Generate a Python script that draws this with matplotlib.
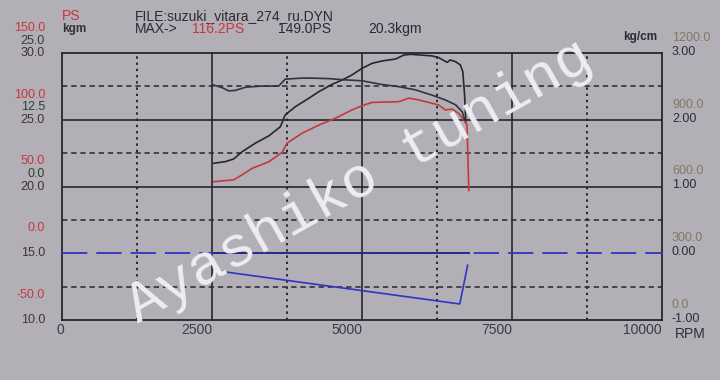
import matplotlib
matplotlib.use("Agg")
import matplotlib.pyplot as plt

# ---------------- data ----------------
rpm_ps1 = [2530, 2860, 2950, 3170, 3450, 3670, 3750, 4000, 4280, 4550, 4720, 4830,
           5000, 5170, 5610, 5780, 5950, 6170, 6280, 6390, 6500, 6610, 6700, 6750, 6780]
ps1 = [53.6, 55.0, 57.3, 63.6, 68.6, 75.6, 82.4, 89.9, 96.0, 101.0, 104.8, 107.3,
       110.5, 113.0, 113.5, 116.2, 114.8, 112.3, 111.0, 107.3, 108.0, 104.8, 99.8, 96.0, 47.0]

rpm_ps2 = [2530, 2720, 2860, 3000, 3220, 3450, 3640, 3720, 3890, 4110, 4280, 4500, 4670,
           4830, 5000, 5170, 5330, 5560, 5700, 5810, 5970, 6170, 6280, 6420, 6470, 6560,
           6640, 6680, 6710, 6730]
ps2 = [67.4, 68.6, 70.6, 76.0, 82.4, 88.0, 94.8, 103.6, 109.8, 116.0, 121.0, 126.5, 129.8,
       133.5, 138.5, 142.3, 144.0, 145.5, 148.5, 149.0, 148.5, 147.8, 146.5, 143.0, 144.8,
       143.5, 141.0, 136.0, 118.5, 98.5]

rpm_tq = [2530, 2670, 2780, 2890, 3060, 3330, 3610, 3720, 4000, 4170, 4450, 4670, 5000,
          5330, 5610, 5890, 6170, 6390, 6560, 6670, 6710]
tq_kgm = [19.0, 18.5, 17.9, 18.0, 18.6, 18.8, 18.8, 20.1, 20.3, 20.3, 20.2, 20.0, 19.8,
          19.1, 18.7, 18.1, 17.1, 16.2, 15.3, 14.0, 12.5]

rpm_boost = [2640, 6630, 6760]
boost = [-0.27, -0.76, -0.18]
rpm_boost0 = [2530, 6780]
boost0 = [0.0, 0.0]

ps_labels = ["150.0", "100.0", "50.0", "0.0", "-50.0"]
kgm_labels = ["25.0", "12.5", "0.0", "", ""]
third_labels = ["30.0", "25.0", "20.0", "15.0", "10.0"]
right_upper = ["1200.0", "900.0", "600.0", "300.0", "0.0"]
right_lower = ["3.00", "2.00", "1.00", "0.00", "-1.00"]
x_ticks = [0, 2500, 5000, 7500, 10000]

# ---------------- style ----------------
BG = "#b2b0b6"
RED = "#c4383e"
DARK = "#26262e"
TQC = "#2e3444"
BLUE = "#3232c4"
FONT = ["Liberation Sans", "DejaVu Sans"]
FS = 10
FSL = 9

fig = plt.figure(figsize=(7.2, 3.8), dpi=100, facecolor=BG)
ax = fig.add_axes([62/720, 1-320/380, 600/720, 267/380], facecolor=BG)
ax.set_xlim(0, 10000)
ax.set_ylim(-50, 150)
for s in ax.spines.values():
    s.set_color(DARK)
    s.set_linewidth(1.3)
ax.set_xticks([])
ax.set_yticks([])

# grid
for xv in [2500, 5000, 7500]:
    ax.axvline(xv, color=DARK, lw=1.2)
for xv in [1250, 3750, 6250, 8750]:
    ax.axvline(xv, color=DARK, lw=1.4, ls=(0, (1.2, 2.0)))
for yv in [100, 50]:
    ax.axhline(yv, color=DARK, lw=1.2)
for yv in [125, 75, 25, -25]:
    ax.axhline(yv, color=DARK, lw=1.1, ls=(0, (3.5, 2.5)))

# twin scales
axk = ax.twinx()
axk.set_ylim(-25, 25)
axb = ax.twinx()
axb.set_ylim(-1, 3)
for a in (axk, axb):
    a.set_yticks([])
    for s in a.spines.values():
        s.set_visible(False)

axb.axhline(0, color=BLUE, lw=1.3, ls=(0, (14, 5)))
axb.plot(rpm_boost0, boost0, color="#2a2a8a", lw=1.4)
axb.plot(rpm_boost, boost, color=BLUE, lw=1.2)
ax.plot(rpm_ps2, ps2, color=DARK, lw=1.2)
axk.plot(rpm_tq, tq_kgm, color=TQC, lw=1.2)
ax.plot(rpm_ps1, ps1, color=RED, lw=1.2)

# left / right labels
grid_ps = [150, 100, 50, 0, -50]
for i, yv in enumerate(grid_ps):
    ax.annotate(ps_labels[i], xy=(0, yv), xycoords=("axes fraction", "data"),
                xytext=(-17, 25), textcoords="offset pixels", ha="right", va="center",
                color=RED, fontsize=FSL, family=FONT)
    if kgm_labels[i]:
        ax.annotate(kgm_labels[i], xy=(0, yv), xycoords=("axes fraction", "data"),
                    xytext=(-17, 12.5), textcoords="offset pixels", ha="right", va="center",
                    color="#2f4034", fontsize=FSL, family=FONT)
    ax.annotate(third_labels[i], xy=(0, yv), xycoords=("axes fraction", "data"),
                xytext=(-17, 0), textcoords="offset pixels", ha="right", va="center",
                color="#3e3434", fontsize=FSL, family=FONT)
    ax.annotate(right_upper[i], xy=(1, yv), xycoords=("axes fraction", "data"),
                xytext=(10, 15), textcoords="offset pixels", ha="left", va="center",
                color="#7c7a66", fontsize=FSL, family=FONT)
    ax.annotate(right_lower[i], xy=(1, yv), xycoords=("axes fraction", "data"),
                xytext=(10, 1), textcoords="offset pixels", ha="left", va="center",
                color="#2c2c3c", fontsize=FSL, family=FONT)

# x labels
for xv in x_ticks:
    ha = "center" if xv == 0 else "right"
    ax.annotate(str(xv), xy=(xv, 0), xycoords=("data", "axes fraction"),
                xytext=(-2 if xv == 0 else 0, -10), textcoords="offset pixels",
                ha=ha, va="center", color="#3a3a44", fontsize=FS, family=FONT)

# header texts (pixel positions)
def ftxt(x, y, s, c, size=FS, **kw):
    fig.text(x/720, 1-y/380, s, color=c, fontsize=size, family=FONT, va="center", **kw)

ftxt(62, 16, "PS", RED)
ftxt(62, 29, "kgm", "#2f3434", size=8.5, weight="bold")
ftxt(135, 16, "FILE:suzuki_vitara_274_ru.DYN", "#2a2a34")
ftxt(135, 29, "MAX->", "#2a2a34")
ftxt(192, 29, "116.2PS", RED)
ftxt(278, 29, "149.0PS", "#2a2a34")
ftxt(368, 29, "20.3kgm", "#2a2a34")
ftxt(657, 37, "kg/cm", "#2a2a34", size=8.5, ha="right", weight="bold")
ftxt(675, 334, "RPM", "#2c2c3c")

# watermark
fig.text(359/720, 1-182/380, "Ayashiko tuning", rotation=29.4, rotation_mode="anchor",
         ha="center", va="center", fontsize=42, family=["Liberation Mono"],
         color="#eeeef2")

fig.savefig("out.png", dpi=100, facecolor=BG)
